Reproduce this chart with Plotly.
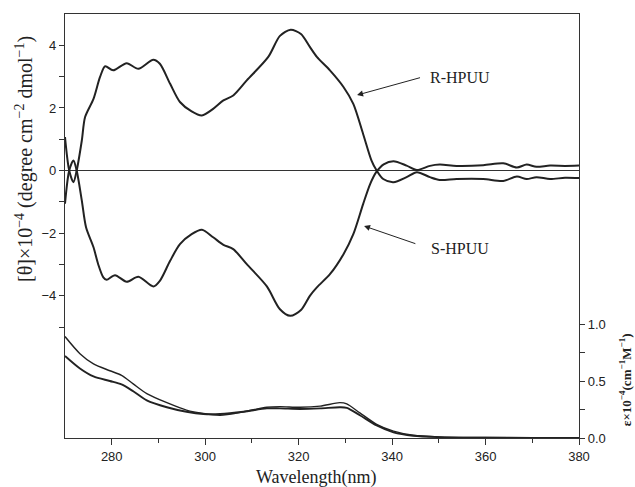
import plotly.graph_objects as go

# CD spectra (theta x 1e-4)
r_wl = [270.0, 270.9, 271.8, 272.5, 273.6, 274.3, 276.1, 277.5, 278.6, 280.3, 283.2, 285.7, 288.9, 290.3,
        292.5, 294.6, 297.1, 299.3, 301.7, 303.9, 306.0, 308.9, 313.5, 316.0, 318.3, 320.5, 322.4, 323.9,
        326.7, 329.6, 331.7, 333.8, 335.6, 336.7, 338.1, 340.3, 343.1, 345.3, 348.1, 350.2, 353.8, 359.5,
        363.8, 366.7, 368.8, 370.9, 373.8, 377.0, 380.0]
r_cd = [1.07, 0.0, -0.37, 0.0, 0.96, 1.71, 2.29, 2.99, 3.33, 3.20, 3.43, 3.25, 3.54, 3.41,
        2.77, 2.19, 1.89, 1.76, 1.97, 2.24, 2.40, 2.88, 3.63, 4.30, 4.50, 4.36, 3.95, 3.63,
        3.20, 2.67, 2.13, 1.17, 0.32, 0.0, -0.27, -0.37, -0.21, -0.05, -0.21, -0.30, -0.27, -0.27,
        -0.33, -0.19, -0.27, -0.21, -0.27, -0.23, -0.24]

s_wl = [270.0, 270.9, 271.8, 272.5, 273.6, 274.5, 276.1, 277.1, 278.2, 278.9, 280.7, 283.2, 285.7, 288.9,
        290.3, 292.5, 294.6, 297.1, 299.3, 301.7, 303.9, 306.0, 308.9, 313.2, 316.0, 318.2, 320.5, 322.4,
        323.9, 326.7, 329.6, 331.7, 333.8, 335.3, 336.6, 338.2, 340.3, 343.1, 345.3, 348.1, 350.2, 353.8,
        359.5, 363.8, 366.7, 368.8, 370.9, 373.8, 377.0, 380.0]
s_cd = [-1.06, 0.0, 0.32, 0.0, -0.96, -1.81, -2.45, -2.99, -3.41, -3.49, -3.34, -3.55, -3.39, -3.70,
        -3.52, -2.88, -2.35, -2.03, -1.89, -2.13, -2.37, -2.51, -2.99, -3.70, -4.43, -4.64, -4.45, -4.00,
        -3.73, -3.31, -2.67, -2.03, -1.07, -0.43, -0.05, 0.20, 0.30, 0.16, 0.02, 0.15, 0.19, 0.15,
        0.17, 0.23, 0.10, 0.19, 0.12, 0.16, 0.15, 0.16]

# UV spectra (epsilon x 1e-4)
uv_wl = [270.0, 273.2, 276.1, 279.6, 282.1, 284.6, 287.5, 291.8, 296.0, 299.6, 303.2, 308.2, 313.2, 316.0,
         320.3, 324.6, 328.8, 330.3, 333.1, 336.7, 340.3, 344.5, 350.0, 360.0, 370.0, 380.0]
uv_a = [0.89, 0.74, 0.65, 0.59, 0.55, 0.475, 0.39, 0.31, 0.245, 0.215, 0.20, 0.23, 0.27, 0.275,
        0.27, 0.28, 0.31, 0.30, 0.22, 0.12, 0.06, 0.024, 0.01, 0.004, 0.002, 0.0]
uv_b = [0.72, 0.61, 0.54, 0.50, 0.47, 0.41, 0.33, 0.27, 0.23, 0.21, 0.21, 0.23, 0.26, 0.26,
        0.255, 0.26, 0.27, 0.265, 0.20, 0.11, 0.05, 0.02, 0.008, 0.003, 0.001, 0.0]

x_ticks = [280, 300, 320, 340, 360, 380]
x_minor = [290, 310, 330, 350, 370]
y_ticks = [-4, -2, 0, 2, 4]
y_minor = [-5, -3, -1, 1, 3]
y2_ticks = [0.0, 0.5, 1.0]
y2_labels = ["0.0", "0.5", "1.0"]
y2_minor = [0.25, 0.75]

INK = "#222222"
AX = "#333333"

fig = go.Figure()
fig.add_trace(go.Scatter(x=r_wl, y=r_cd, mode="lines", line=dict(color=INK, width=2, shape="spline", smoothing=0.8),
                         name="R-HPUU", showlegend=False))
fig.add_trace(go.Scatter(x=s_wl, y=s_cd, mode="lines", line=dict(color=INK, width=2, shape="spline", smoothing=0.8),
                         name="S-HPUU", showlegend=False))
fig.add_trace(go.Scatter(x=uv_wl, y=uv_a, mode="lines", yaxis="y2", line=dict(color=INK, width=1.4, shape="spline", smoothing=0.8),
                         showlegend=False))
fig.add_trace(go.Scatter(x=uv_wl, y=uv_b, mode="lines", yaxis="y2", line=dict(color=INK, width=1.9, shape="spline", smoothing=0.8),
                         showlegend=False))

tickfont = dict(family="Liberation Sans, Arial, sans-serif", size=13, color=INK)

fig.update_layout(
    width=635, height=487,
    margin=dict(l=65, r=56, t=14, b=49),
    paper_bgcolor="white", plot_bgcolor="white",
    xaxis=dict(range=[270, 380], tickmode="array", tickvals=x_ticks, ticks="outside", ticklen=6, tickwidth=1,
               tickcolor=AX, showline=True, linecolor=AX, linewidth=1.2, mirror=True, showgrid=False,
               zeroline=False, tickfont=tickfont,
               minor=dict(tickmode="array", tickvals=x_minor, ticks="outside", ticklen=4,
                          tickcolor=AX, showgrid=False)),
    yaxis=dict(range=[-8.54, 5.0], tickmode="array", tickvals=y_ticks, ticks="outside", ticklen=5, tickwidth=1,
               tickcolor=AX, showline=True, linecolor=AX, linewidth=1.2, mirror=True, showgrid=False,
               zeroline=True, zerolinecolor=AX, zerolinewidth=1.2, tickfont=tickfont,
               minor=dict(tickmode="array", tickvals=y_minor, ticks="outside", ticklen=5, tickcolor=AX, showgrid=False)),
    yaxis2=dict(range=[0, 3.72], overlaying="y", side="right", tickmode="array", tickvals=y2_ticks, ticktext=y2_labels,
                ticks="outside", ticklen=5, tickwidth=1, tickcolor=AX, showline=True, linecolor=AX, linewidth=1.2,
                showgrid=False, zeroline=False, tickfont=tickfont,
                minor=dict(tickmode="array", tickvals=y2_minor, ticks="outside", ticklen=5, tickcolor=AX, showgrid=False)),
)

serif = "Liberation Serif, Times New Roman, serif"
ann = []
# axis titles
ann.append(dict(text="Wavelength(nm)", xref="paper", yref="paper", x=0.49, y=-0.092, xanchor="center", yanchor="middle",
                showarrow=False, font=dict(family=serif, size=18, color=INK)))
ann.append(dict(text="[θ]×10<sup>−4</sup> (degree cm<sup>−2</sup> dmol<sup>−1</sup>)", xref="paper", yref="paper",
                x=-0.0798, y=0.658, xanchor="center", yanchor="middle", textangle=-90, showarrow=False,
                font=dict(family=serif, size=20, color=INK)))
ann.append(dict(text="<b>ε×10<sup>−4</sup>(cm<sup>−1</sup>M<sup>−1</sup>)</b>", xref="paper", yref="paper",
                x=1.090, y=0.137, xanchor="center", yanchor="middle", textangle=-90, showarrow=False,
                font=dict(family=serif, size=13, color=INK)))
# labels
ann.append(dict(text="R-HPUU", x=354.5, y=2.98, xref="x", yref="y", showarrow=False,
                font=dict(family=serif, size=16, color=INK)))
ann.append(dict(text="S-HPUU", x=354.5, y=-2.48, xref="x", yref="y", showarrow=False,
                font=dict(family=serif, size=16, color=INK)))
# arrows
ann.append(dict(text="", x=332.5, y=2.41, ax=346.3, ay=2.98, xref="x", yref="y", axref="x", ayref="y",
                showarrow=True, arrowhead=2, arrowsize=1.2, arrowwidth=1, arrowcolor=INK))
ann.append(dict(text="", x=334.0, y=-1.77, ax=345.3, ay=-2.35, xref="x", yref="y", axref="x", ayref="y",
                showarrow=True, arrowhead=2, arrowsize=1.2, arrowwidth=1, arrowcolor=INK))
fig.update_layout(annotations=ann)

fig.write_html("out.html")
